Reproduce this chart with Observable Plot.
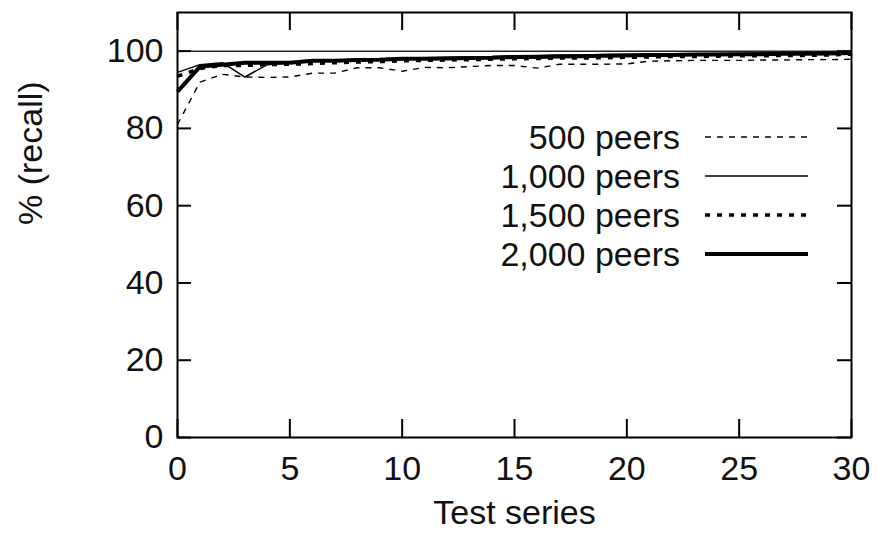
<!DOCTYPE html>
<html><head><meta charset="utf-8">
<script src="https://cdn.jsdelivr.net/npm/d3@7"></script>
<script src="https://cdn.jsdelivr.net/npm/@observablehq/plot@0.6"></script>
<style>
body{margin:0;background:#fff;}
#wrap{position:relative;width:877px;height:542px;font-family:"Liberation Sans",Arial,Helvetica,sans-serif;}
.row{position:absolute;left:380px;width:430px;height:40px;display:flex;align-items:center;}
.row span{width:300px;text-align:right;font-size:34px;color:#111;}
.row svg{margin-left:25px;}
</style></head><body><div id="wrap"></div>
<script>
const testSeries = [0,1,2,3,4,5,6,7,8,9,10,11,12,13,14,15,16,17,18,19,20,21,22,23,24,25,26,27,28,29,30];
const peers500  = [81,92,94,93.3,93.2,93.3,94.3,94.3,95.7,95.7,94.8,95.8,95.7,96,96.3,96.3,95.6,96.6,96.6,96.6,96.7,97.4,97.5,97.6,97.6,97.6,97.7,97.7,97.8,97.8,97.9];
const peers1000 = [94.5,96.5,97,93.3,96.5,97,97.5,97.7,97.9,98,98.2,98.3,98.4,98.5,98.6,98.8,98.9,99,99,99.1,99.2,99.2,99.3,99.3,99.4,99.4,99.5,99.5,99.6,99.6,99.7];
const peers1500 = [93.5,95.5,96.3,96.3,96.5,96.6,96.8,97,97.2,97.3,97.5,97.6,97.7,97.8,97.9,98,98.1,98.2,98.2,98.3,98.4,98.5,98.6,98.6,98.7,98.8,98.8,98.9,98.9,99,99.2];
const peers2000 = [89.5,96,96.5,97,97,97,97.5,97.5,97.7,97.8,98,98,98.1,98.2,98.3,98.5,98.5,98.6,98.7,98.8,98.9,99,99,99.1,99.1,99.2,99.2,99.3,99.3,99.4,99.5];
const seriesNames = ["500 peers","1,000 peers","1,500 peers","2,000 peers"];
const xTicks = [0,5,10,15,20,25,30];
const yTicks = [0,20,40,60,80,100];
const referenceLine = [100];

const styles = [
  {strokeWidth:1.4, dash:"6,6"},
  {strokeWidth:1.5, dash:null},
  {strokeWidth:3.5, dash:"5,7"},
  {strokeWidth:4, dash:null}
];
const allValues = [peers500, peers1000, peers1500, peers2000];
const W = 877, H = 542, mL = 177, mR = 26, mT = 12, mB = 105;
const pw = W - mL - mR, ph = H - mT - mB;

const lineMarks = allValues.map((vals, i) => {
  const rows = testSeries.map((x, j) => ({x, y: vals[j]}));
  return Plot.line(rows, {x:"x", y:"y", stroke:"#000", strokeWidth: styles[i].strokeWidth,
    strokeDasharray: styles[i].dash || undefined, strokeLinejoin:"miter", strokeLinecap:"butt"});
});

const chart = Plot.plot({
  width: W, height: H,
  marginLeft: mL, marginRight: mR, marginTop: mT, marginBottom: mB,
  style: {fontSize:"34px", fontFamily:'"Liberation Sans", Arial, Helvetica, sans-serif', color:"#111", background:"#fff"},
  x: {domain:[0,30], ticks: xTicks},
  y: {domain:[0,110], ticks: yTicks},
  marks: [
    Plot.ruleY(referenceLine, {stroke:"#222", strokeWidth:1.5}),
    ...lineMarks,
    Plot.ruleX(xTicks, {x: d=>d, insetTop: ph - 18, stroke:"#000", strokeWidth:2}),
    Plot.ruleX(xTicks, {x: d=>d, insetBottom: ph - 18, stroke:"#000", strokeWidth:2}),
    Plot.ruleY(yTicks, {y: d=>d, insetRight: pw - 14, stroke:"#000", strokeWidth:2}),
    Plot.ruleY(yTicks, {y: d=>d, insetLeft: pw - 14, stroke:"#000", strokeWidth:2}),
    Plot.frame({stroke:"#000", strokeWidth:2}),
    Plot.axisX({ticks: xTicks, tickSize:0, tickPadding:18, label:null, tickFormat: d=>String(d)}),
    Plot.axisY({ticks: yTicks, tickSize:0, tickPadding:14, label:null, tickFormat: d=>String(d)}),
    Plot.text(["Test series"], {text: d=>d, frameAnchor:"bottom", dy: 86, fill:"#111"}),
    Plot.text(["% (recall)"], {text: d=>d, frameAnchor:"left", dx: -146, rotate:-90, fill:"#111"})
  ]
});
const wrap = document.getElementById("wrap");
wrap.appendChild(chart);

const rowCenters = [137,176,215,254];
seriesNames.forEach((name, i) => {
  const row = document.createElement("div");
  row.className = "row";
  row.style.top = (rowCenters[i] - 20) + "px";
  const span = document.createElement("span");
  span.textContent = name;
  row.appendChild(span);
  const svg = d3.create("svg").attr("width",103).attr("height",10);
  svg.append("line").attr("x1",0).attr("x2",103).attr("y1",5).attr("y2",5)
    .attr("stroke","#000").attr("stroke-width",styles[i].strokeWidth)
    .attr("stroke-dasharray", styles[i].dash);
  row.appendChild(svg.node());
  wrap.appendChild(row);
});
</script></body></html>
